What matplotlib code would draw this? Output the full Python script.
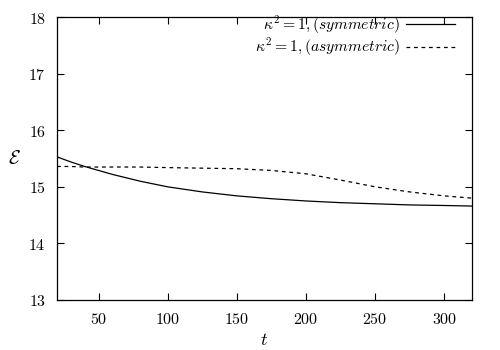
import matplotlib
matplotlib.use("Agg")
import matplotlib.pyplot as plt
from matplotlib.ticker import FuncFormatter

plt.rcParams['mathtext.fontset'] = 'cm'
plt.rcParams['font.family'] = 'serif'
plt.rcParams['font.serif'] = ['DejaVu Serif']

t = [20, 30, 40, 50, 60, 80, 100, 125, 150, 175, 200, 225, 250, 275, 300, 320]
sym = [15.53, 15.44, 15.36, 15.29, 15.22, 15.10, 15.00, 14.91, 14.84, 14.79, 14.75, 14.72, 14.70, 14.68, 14.67, 14.66]
asym = [15.36, 15.36, 15.35, 15.35, 15.35, 15.35, 15.34, 15.33, 15.32, 15.29, 15.23, 15.12, 15.00, 14.91, 14.84, 14.80]
xticks = [50, 100, 150, 200, 250, 300]
yticks = [13, 14, 15, 16, 17, 18]

fig = plt.figure(figsize=(5, 3.5), dpi=100)
ax = fig.add_axes([0.114, 0.143, 0.830, 0.808])
ax.plot(t, sym, color='black', lw=0.9, label=r'$\kappa^2=1,(symmetric)$')
ax.plot(t, asym, color='black', lw=0.9, dashes=(3, 3), label=r'$\kappa^2=1,(asymmetric)$')
ax.set_xlim(20, 320)
ax.set_ylim(13, 18)
ax.set_xticks(xticks)
ax.set_yticks(yticks)
fmt = FuncFormatter(lambda v, p: r'$%d$' % v)
ax.xaxis.set_major_formatter(fmt)
ax.yaxis.set_major_formatter(fmt)
ax.tick_params(direction='in', top=True, right=True, length=5, width=0.8, labelsize=11.5, pad=8)
for s in ax.spines.values():
    s.set_linewidth(0.9)
ax.set_xlabel(r'$t$', fontsize=13, labelpad=2)
ax.set_ylabel(r'$\mathcal{E}$', fontsize=14, rotation=0, labelpad=10, va='center')
ax.legend(loc='upper right', frameon=False, markerfirst=False, fontsize=11.3,
          handlelength=3.1, handletextpad=0.4, borderaxespad=0.0, labelspacing=0.0,
          borderpad=0.0, bbox_to_anchor=(0.958, 1.012))
fig.savefig('out.png', dpi=100)
